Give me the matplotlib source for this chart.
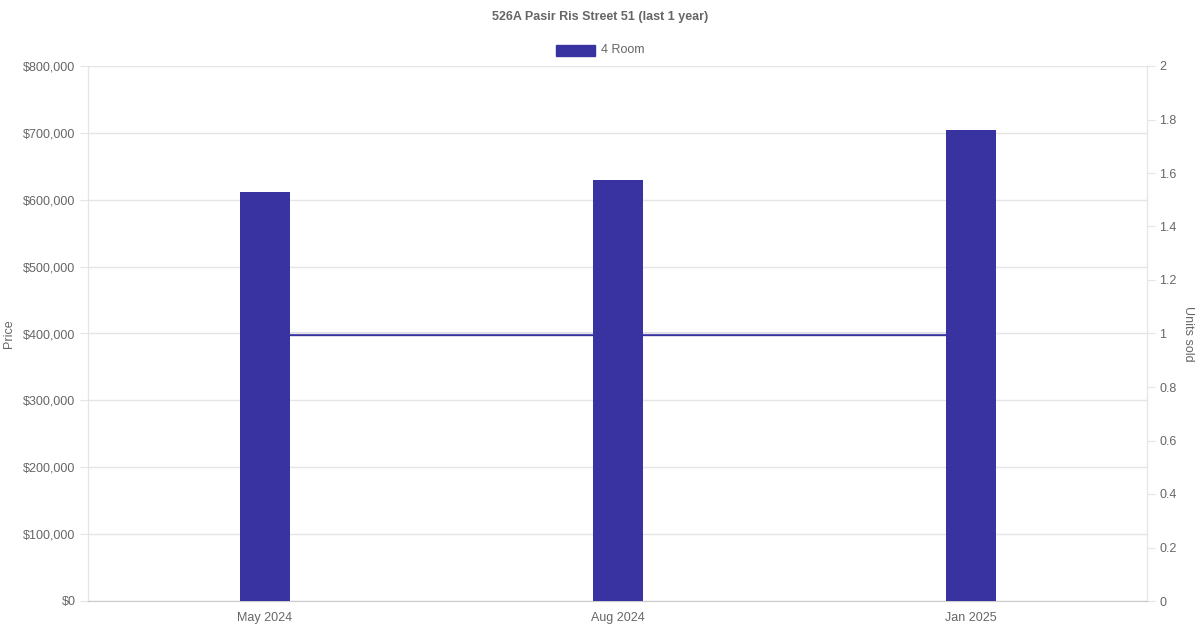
import matplotlib.pyplot as plt
from matplotlib.ticker import FuncFormatter, MultipleLocator

plt.rcParams['font.family'] = ['Liberation Sans', 'DejaVu Sans']

months = ['May 2024', 'Aug 2024', 'Jan 2025']
prices = [612000, 630000, 705000]
units = [1, 1, 1]

bar_color = '#3833A0'
grid_color = '#E5E5E5'
text_color = '#666666'

fig = plt.figure(figsize=(12, 6.3), dpi=100)
ax = fig.add_axes([88 / 1200, 1 - 601 / 630, (1147 - 88) / 1200, (601 - 66) / 630])
ax2 = ax.twinx()

xs = list(range(len(months)))

# line on the right axis, drawn under the bars
ax2.plot(xs, units, color=bar_color, lw=2.4, zorder=1)
ax2.set_ylim(0, 2)
ax2.yaxis.set_major_locator(MultipleLocator(0.2))
ax2.yaxis.set_major_formatter(FuncFormatter(lambda v, p: f'{v:g}'))
ax2.set_ylabel('Units sold', color=text_color, fontsize=9, rotation=270, labelpad=12)

ax.bar(xs, prices, width=50 / 353, color=bar_color, zorder=3)
ax.set_xlim(-0.5, 2.5)
ax.set_ylim(0, 800000)
ax.yaxis.set_major_locator(MultipleLocator(100000))
ax.yaxis.set_major_formatter(FuncFormatter(lambda v, p: f'${v:,.0f}'))
ax.set_xticks(xs)
ax.set_xticklabels(months)
ax.set_ylabel('Price', color=text_color, fontsize=9, labelpad=6)
ax.grid(axis='y', color=grid_color, lw=1, zorder=0)
ax.set_axisbelow(True)

# bars above the line
ax.set_zorder(ax2.get_zorder() + 1)
ax.patch.set_visible(False)

for a in (ax, ax2):
    for s in a.spines.values():
        s.set_color(grid_color)
    a.spines['top'].set_visible(False)
    a.spines['bottom'].set_color('#CCCCCC')
    a.tick_params(colors=grid_color, labelcolor=text_color, labelsize=9, length=6, width=0.8, pad=3)
ax.tick_params(axis='x', length=0, pad=8)

fig.text(0.5, 1 - 17 / 630, '526A Pasir Ris Street 51 (last 1 year)', ha='center', va='center',
         fontsize=9, fontweight='bold', color=text_color)

# legend
fig.patches.append(plt.Rectangle((556 / 1200, 1 - 56 / 630), 39 / 1200, 11 / 630,
                                 transform=fig.transFigure, color=bar_color))
fig.text(601 / 1200, 1 - 50 / 630, '4 Room', ha='left', va='center', fontsize=9, color=text_color)

fig.savefig('out.png', dpi=100)
